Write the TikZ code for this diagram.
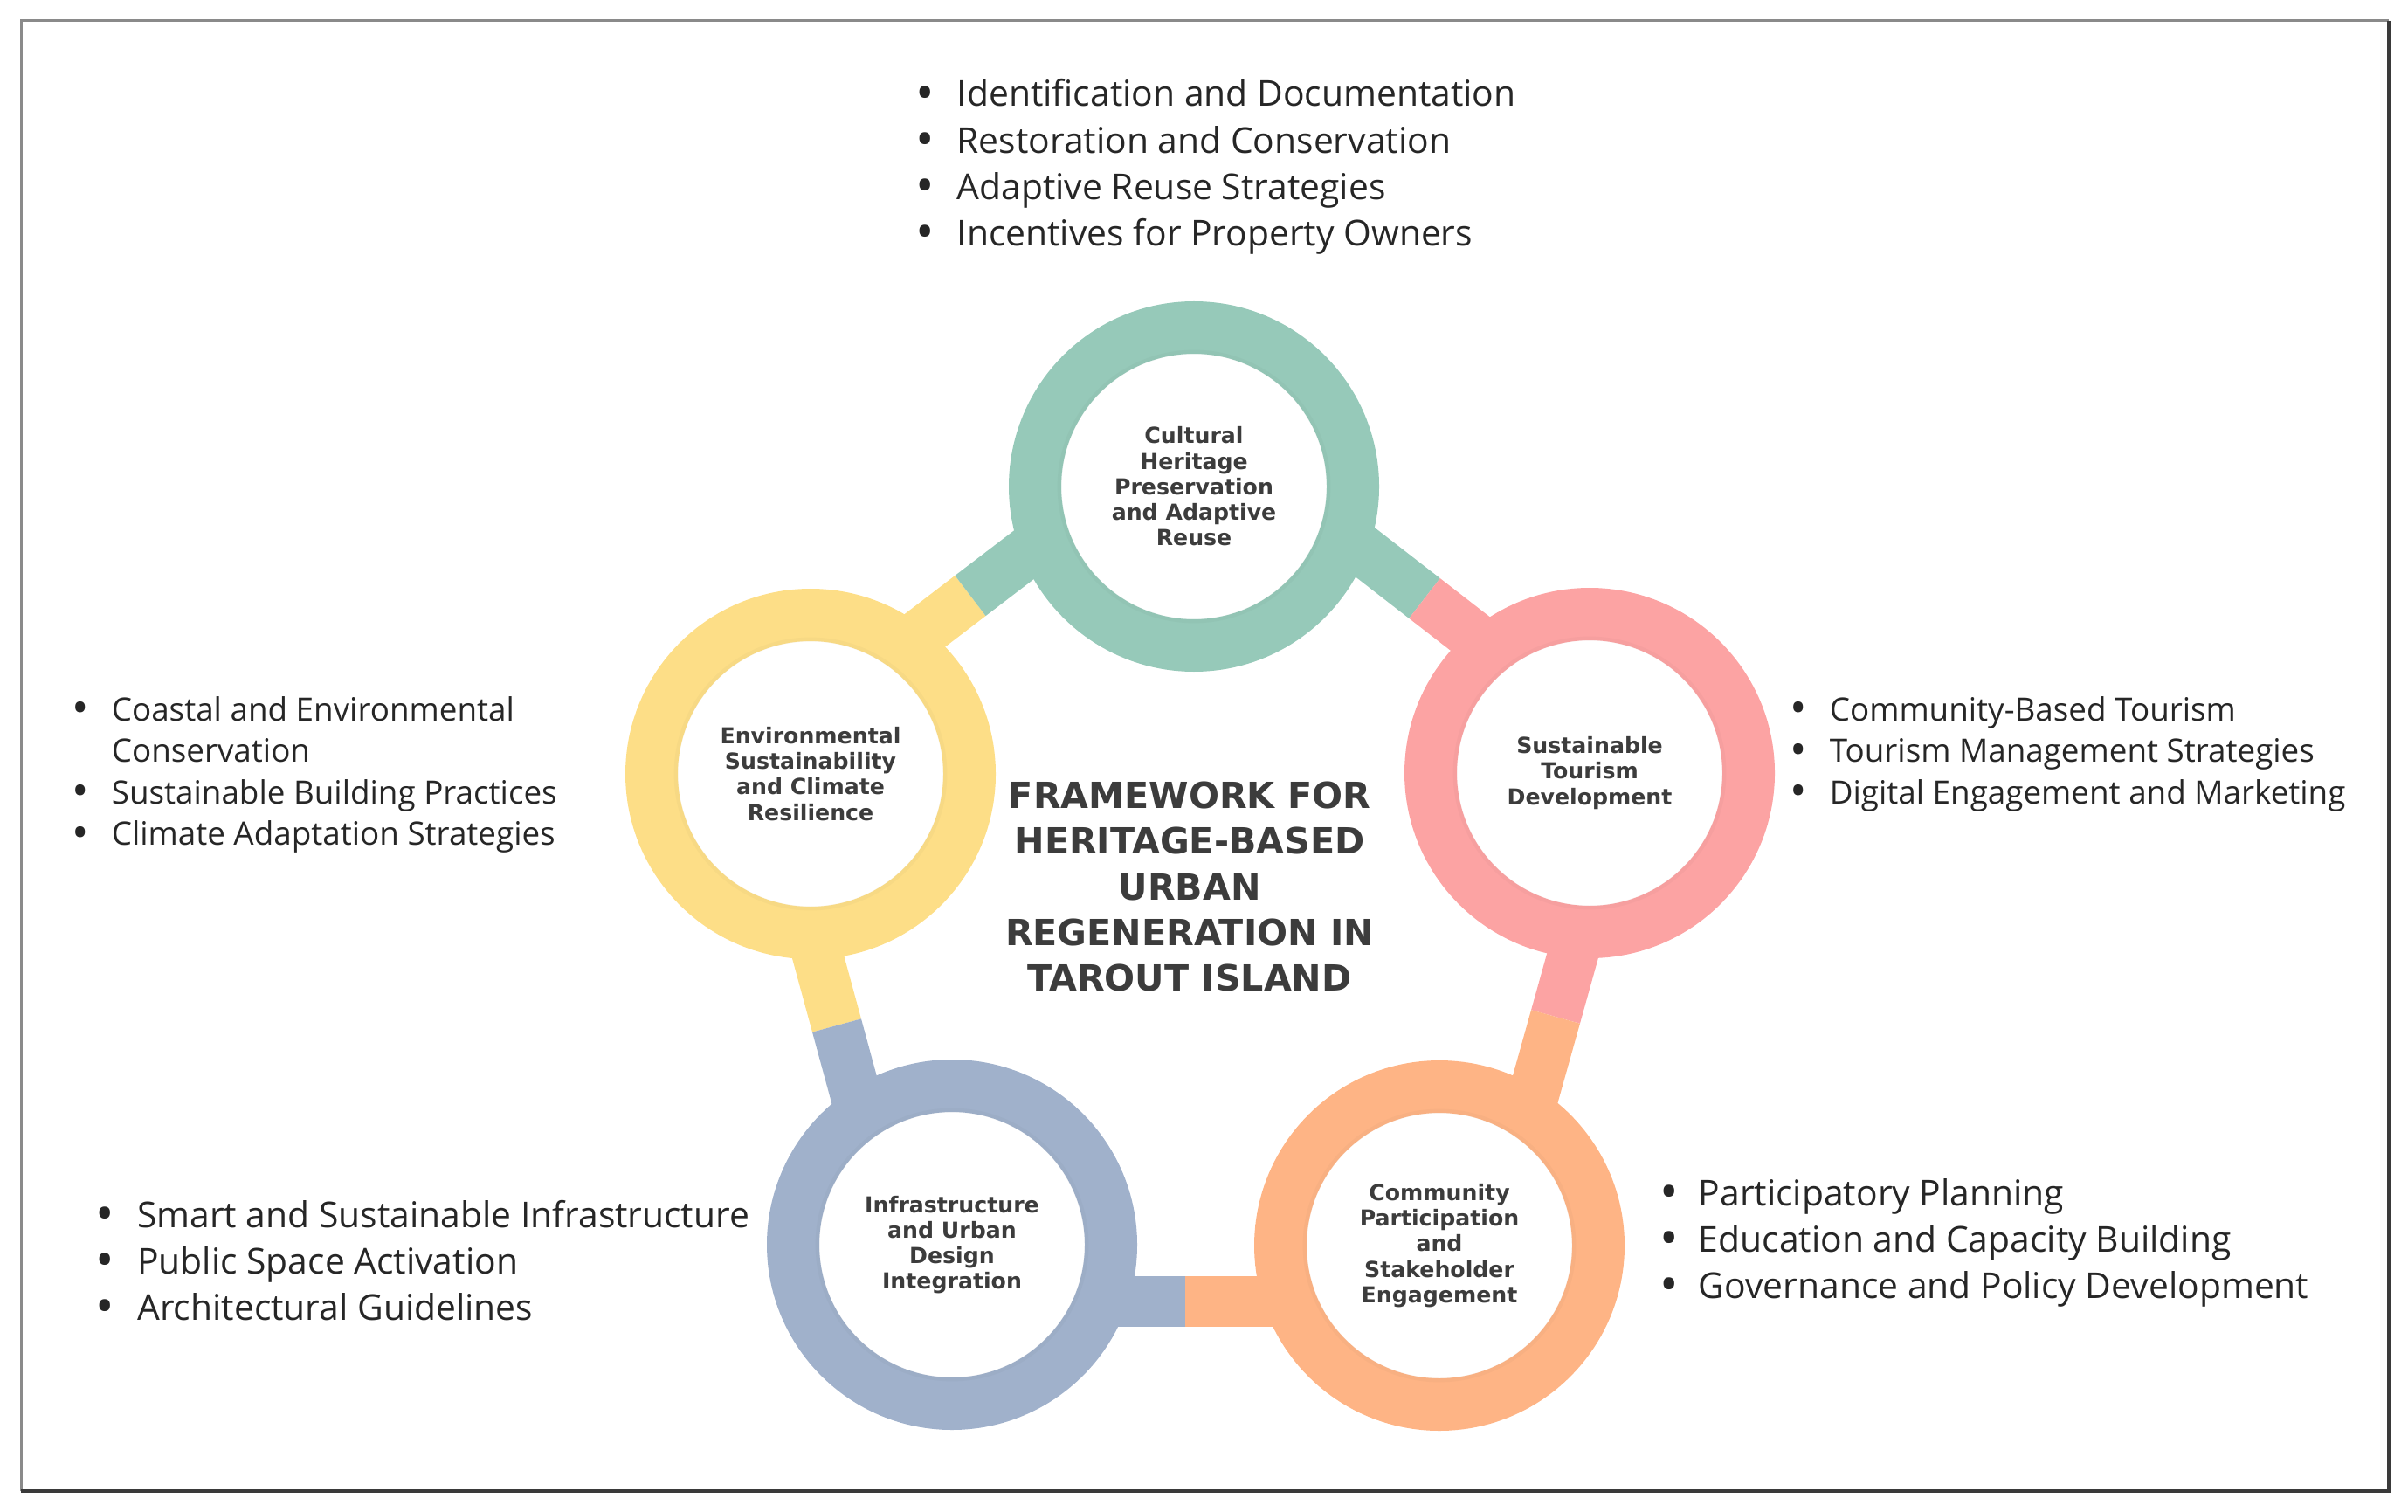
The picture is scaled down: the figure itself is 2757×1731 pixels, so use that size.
\documentclass[tikz,border=0pt]{standalone}
\usepackage{fontspec}
\setmainfont{Open Sans}
\newfontfamily\labelfont{DejaVu Sans}
\usetikzlibrary{backgrounds}
\definecolor{cteal}{HTML}{96C9B9}
\definecolor{cpink}{HTML}{FCA3A3}
\definecolor{cyellow}{HTML}{FDDE87}
\definecolor{cblue}{HTML}{A0B1CB}
\definecolor{corange}{HTML}{FEB485}
\definecolor{labelgray}{HTML}{3C3C3C}
\definecolor{listgray}{HTML}{262626}
\definecolor{framelight}{HTML}{8A8A8A}
\definecolor{framedark}{HTML}{3A3A3A}
\newcommand{\bulletbox}[1]{\makebox[#1][l]{\hspace*{-0.06em}\raisebox{-0.1em}{\scalebox{1.4}{\textbullet}}}}
\tikzset{
  ring/.style={circle, draw=#1, line width=15pt, fill=white, minimum size=91pt,
    inner sep=0pt, align=center, text=labelgray,
    font=\labelfont\bfseries\fontsize{6.3}{7.3}\selectfont},
  ringshade/.style={draw=#1!82!black, line width=1.2pt, opacity=0.12},
  bar/.style={draw=#1, line width=14.5pt, line cap=butt},
  biglist/.style={anchor=base west, inner sep=0pt, text=listgray,
    font=\fontsize{10.2}{13.3}\selectfont},
  smalllist/.style={anchor=base west, inner sep=0pt, text=listgray,
    font=\fontsize{9.2}{11.9}\selectfont},
  titletext/.style={align=center, inner sep=0pt, text=labelgray,
    font=\labelfont\bfseries\fontsize{10.3}{13.1}\selectfont},
}
\begin{document}
\begin{tikzpicture}[x=0.25pt, y=-0.25pt]
\useasboundingbox (0,0) rectangle (2757,1731);
% frame
\draw[framelight, line width=0.75pt] (24,1707) -- (24,24) -- (2735,24);
\draw[framedark, line width=1pt] (2735,24) -- (2735,1707) -- (24,1707);

% circles
\node[ring=cteal]   (cult)  at (1367,557)  {Cultural\\Heritage\\Preservation\\and Adaptive\\Reuse};
\node[ring=cpink]   (tour)  at (1820,885)  {Sustainable\\Tourism\\Development};
\node[ring=cyellow] (env)   at (928,886)   {Environmental\\Sustainability\\and Climate\\Resilience};
\node[ring=cblue]   (infra) at (1090,1425) {Infrastructure\\and Urban\\Design\\Integration};
\node[ring=corange] (comm)  at (1648,1426) {Community\\Participation\\and\\Stakeholder\\Engagement};

\draw[ringshade=cteal]   (cult.center)  circle[radius=154];
\draw[ringshade=cpink]   (tour.center)  circle[radius=154];
\draw[ringshade=cyellow] (env.center)   circle[radius=154];
\draw[ringshade=cblue]   (infra.center) circle[radius=154];
\draw[ringshade=corange] (comm.center)  circle[radius=154];

% connector coordinates
\coordinate (A1) at (1007.7,760.9);
\coordinate (AS) at (1111,682);
\coordinate (A2) at (1214.4,603.1);
\coordinate (B1) at (1528.3,605.4);
\coordinate (BS) at (1631,685);
\coordinate (B2) at (1733.7,764.6);
\coordinate (C1) at (1816,1038.8);
\coordinate (CS) at (1781,1164);
\coordinate (C2) at (1745.9,1289.2);
\coordinate (D1) at (1227,1490);
\coordinate (DS) at (1357,1490);
\coordinate (D2) at (1487,1490);
\coordinate (E1) at (923.8,1048.5);
\coordinate (ES) at (958,1174);
\coordinate (E2) at (992.2,1299.5);

\begin{pgfonlayer}{background}
\draw[bar=cyellow] (A1) -- (AS);
\draw[bar=cteal]   (AS) -- (A2);
\draw[bar=cteal]   (B1) -- (BS);
\draw[bar=cpink]   (BS) -- (B2);
\draw[bar=cpink]   (C1) -- (CS);
\draw[bar=corange] (CS) -- (C2);
\draw[bar=cblue]   (D1) -- (DS);
\draw[bar=corange] (DS) -- (D2);
\draw[bar=cyellow] (E1) -- (ES);
\draw[bar=cblue]   (ES) -- (E2);
\end{pgfonlayer}

% title
\node[titletext] (title) at (1362,1015) {FRAMEWORK FOR\\HERITAGE-BASED\\URBAN\\REGENERATION IN\\TAROUT ISLAND};

% lists
\node[biglist] (listtop) at (1049.7,122) {\begin{tabular}[t]{@{}l@{}}
\bulletbox{11.3pt}Identification and Documentation\\
\bulletbox{11.3pt}Restoration and Conservation\\
\bulletbox{11.3pt}Adaptive Reuse Strategies\\
\bulletbox{11.3pt}Incentives for Property Owners
\end{tabular}};

\node[smalllist] (listleft) at (84.4,825) {\begin{tabular}[t]{@{}l@{}}
\bulletbox{10.65pt}Coastal and Environmental\\
\hspace*{10.65pt}Conservation\\
\bulletbox{10.65pt}Sustainable Building Practices\\
\bulletbox{10.65pt}Climate Adaptation Strategies
\end{tabular}};

\node[smalllist] (listright) at (2050.4,825) {\begin{tabular}[t]{@{}l@{}}
\bulletbox{10.9pt}Community-Based Tourism\\
\bulletbox{10.9pt}Tourism Management Strategies\\
\bulletbox{10.9pt}Digital Engagement and Marketing
\end{tabular}};

\node[biglist] (listbl) at (110.7,1405.5) {\begin{tabular}[t]{@{}l@{}}
\bulletbox{11.45pt}Smart and Sustainable Infrastructure\\
\bulletbox{11.45pt}Public Space Activation\\
\bulletbox{11.45pt}Architectural Guidelines
\end{tabular}};

\node[biglist] (listbr) at (1901.7,1380.5) {\begin{tabular}[t]{@{}l@{}}
\bulletbox{10.6pt}Participatory Planning\\
\bulletbox{10.6pt}Education and Capacity Building\\
\bulletbox{10.6pt}Governance and Policy Development
\end{tabular}};
\end{tikzpicture}
\end{document}
